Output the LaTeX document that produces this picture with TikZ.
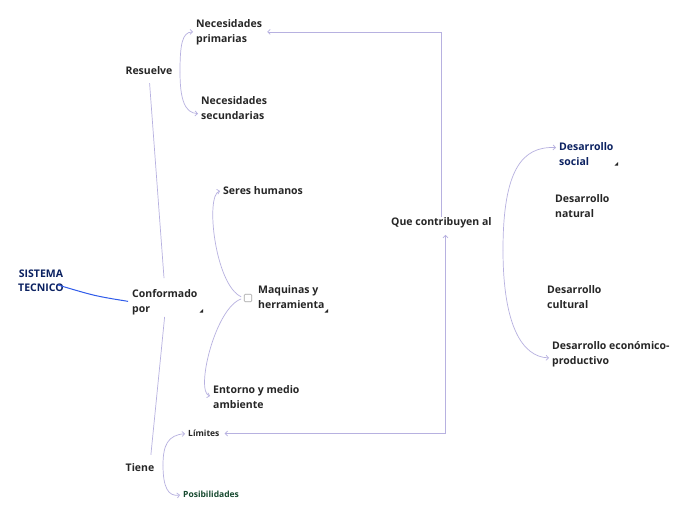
\documentclass[tikz,border=0pt]{standalone}
\usepackage{fontspec}
\setmainfont{Open Sans}
\usepackage{xcolor}
\usetikzlibrary{positioning,arrows.meta,calc,backgrounds}

\definecolor{navy}{HTML}{0B2161}
\definecolor{ink}{HTML}{262626}
\definecolor{leaf}{HTML}{174A30}
\definecolor{lav}{HTML}{B7B1E0}
\definecolor{faint}{HTML}{F6DDE3}
\definecolor{mainblue}{HTML}{2F5BEA}

% small corner marker under a topic
\newcommand\cornermark[1]{\fill[black!85] #1 -- ++(0,3.5) -- ++(-3.5,0) -- cycle;}

\begin{document}
\begin{tikzpicture}[
  x=1pt,y=-1pt,
  >={Straight Barb[length=2.5pt,width=5pt]},
  topic/.style={anchor=north west,inner sep=0pt,align=left,text=ink,
                font=\fontsize{10.5}{15}\selectfont\bfseries},
  root/.style={topic,anchor=center,align=center,text=navy,
               font=\fontsize{10.5}{14}\selectfont\bfseries},
  tiny/.style={topic,font=\fontsize{8.5}{10}\selectfont\bfseries},
  link/.style={draw=lav,line width=0.7pt},
  arr/.style={link,->,shorten >=3pt},
  fan/.style={draw=faint,line width=0.7pt},
]
  \fill[white] (0,0) rectangle (696,520);
  \useasboundingbox (0,0) rectangle (696,520);

  \node[root] (sys) at (41,281) {SISTEMA\\TECNICO};

  \node[topic,anchor=center] (res)   at (149,71)  {Resuelve};
  \node[topic]               (conf)  at (132,289) {Conformado\\por};
  \node[topic,anchor=center] (tiene) at (140,468) {Tiene};

  \node[topic] (np)    at (196,19)  {Necesidades\\primarias};
  \node[topic] (ns)    at (201,96)  {Necesidades\\secundarias};
  \node[topic] (seres) at (223,186) {Seres humanos};
  \node[topic] (maq)   at (258,285) {Maquinas y\\herramienta};
  \node[topic] (ent)   at (213,385) {Entorno y medio\\ambiente};
  \node[tiny]  (lim)   at (188,430) {Límites};
  \node[tiny,text=leaf] (pos) at (183,491) {Posibilidades};
  \node[draw=gray!70,rounded corners=1pt,minimum size=7.5pt,inner sep=0pt,
        line width=0.6pt] (box) at (248,298) {};

  \node[topic] (que)  at (391,217) {Que contribuyen al};
  \node[topic,text=navy] (dsoc) at (559,142) {Desarrollo\\social};
  \node[topic] (dnat) at (555,194) {Desarrollo\\natural};
  \node[topic] (dcul) at (547,285) {Desarrollo\\cultural};
  \node[topic] (deco) at (552,341) {Desarrollo económico-\\productivo};

  \cornermark{(203,309)}
  \cornermark{(328,309)}
  \cornermark{(618,162)}

  % faint fan from the root
  \begin{scope}[on background layer]
    \draw[fan] (sys) .. controls (80,150) and (95,75) .. (res.west);
    \draw[fan] (sys) .. controls (100,130) and (150,40) .. (np.west);
    \draw[fan] (sys) .. controls (110,170) and (160,110) .. (ns.west);
    \draw[fan] (sys) .. controls (120,220) and (180,190) .. (seres.west);
    \draw[fan] (sys) .. controls (200,200) and (400,150) .. (dsoc.west);
    \draw[fan] (sys) .. controls (150,240) and (300,222) .. (que.west);
    \draw[fan] (sys) .. controls (100,298) .. (box.west);
    \draw[fan] (sys) .. controls (150,300) and (400,350) .. (deco.west);
    \draw[fan] (sys) .. controls (100,370) and (170,395) .. (ent.west);
    \draw[fan] (sys) .. controls (90,400) and (150,430) .. (lim.west);
    \draw[fan] (sys) .. controls (70,430) and (100,465) .. (tiene.west);
    \draw[fan] (sys) .. controls (70,440) and (140,490) .. (pos.west);
  \end{scope}

  \draw[mainblue,line width=1pt,shorten >=4pt] ([xshift=-6pt,yshift=-4pt]sys.east)
    .. controls (95,296) .. (conf.west);

  \draw[link,shorten <=8pt,shorten >=11pt] (res.south) -- (conf.north);
  \draw[link,shorten <=2pt,shorten >=9pt] (conf.south) -- ([xshift=10pt]tiene.north);

  % brackets
  \coordinate (rb) at (180,72);
  \draw[arr] (rb) .. controls (180,45) and (182,32) .. (np.west);
  \draw[arr] (rb) .. controls (180,100) and (185,113) .. ([yshift=-6pt]ns.west);

  \draw[arr,shorten <=3pt] (box.west) .. controls (215,285) and (205,195) .. (seres.west);
  \draw[arr,shorten <=3pt] (box.west) .. controls (215,308) and (195,392) .. (ent.west);

  \coordinate (tb) at (163,465);
  \draw[arr] (tb) .. controls (163,445) and (168,435) .. (lim.west);
  \draw[arr] (tb) .. controls (163,487) and (168,497) .. (pos.west);

  \coordinate (db) at (503,250);
  \draw[arr] (db) .. controls (503,170) and (522,146) .. ([yshift=6pt]dsoc.west);
  \draw[arr] (db) .. controls (503,325) and (522,357) .. ([yshift=-4pt]deco.west);

  % cross links
  \draw[arr,shorten >=5pt] (que.north) |- (np.east);
  \draw[link,<->,shorten <=5pt,shorten >=7pt] (lim.east) -| ([xshift=4pt]que.south);
\end{tikzpicture}
\end{document}
